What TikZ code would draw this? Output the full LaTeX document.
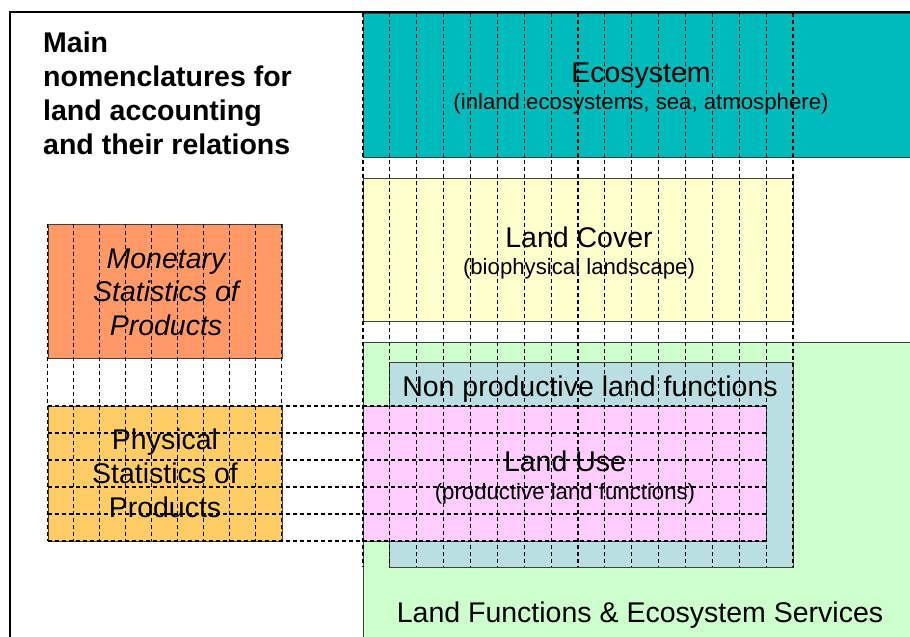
\documentclass[tikz,border=0pt]{standalone}
\usepackage{fontspec}
\setmainfont{Liberation Sans}
\definecolor{ecoteal}{RGB}{0,187,187}
\definecolor{coveryellow}{RGB}{255,255,204}
\definecolor{monorange}{RGB}{255,153,102}
\definecolor{physorange}{RGB}{255,204,102}
\definecolor{funcgreen}{RGB}{204,255,204}
\definecolor{nonprodblue}{RGB}{185,223,227}
\definecolor{usepink}{RGB}{255,204,255}
\tikzset{
  box/.style={draw=black!75, line width=1.2pt, inner sep=0pt, anchor=north west, rectangle},
  gridline/.style={draw=black, line width=1.2pt, dash pattern=on 4pt off 3pt},
  big/.style={font=\fontsize{28.5}{33}\selectfont, inner sep=0pt, anchor=base},
  bigit/.style={font=\fontsize{28.5}{33}\itshape\selectfont, inner sep=0pt, anchor=base},
  small/.style={font=\fontsize{22.2}{26}\selectfont, inner sep=0pt, anchor=base},
  titletext/.style={font=\fontsize{28.5}{34}\bfseries\selectfont, inner sep=0pt, anchor=base west},
}
\begin{document}
\begin{tikzpicture}[x=1pt,y=-1pt]
\useasboundingbox (0,0) rectangle (910,637);
% boxes
\node[box, fill=ecoteal, minimum width=560pt, minimum height=144pt] (eco) at (363,13) {};
\node[box, fill=coveryellow, minimum width=430pt, minimum height=143pt] (cover) at (363,178) {};
\node[box, fill=monorange, minimum width=234pt, minimum height=134pt] (mon) at (47.5,224) {};
\node[box, fill=physorange, minimum width=234pt, minimum height=135pt] (phys) at (47.5,406) {};
\node[box, fill=funcgreen, minimum width=560pt, minimum height=310pt] (func) at (363,341.5) {};
\node[box, fill=nonprodblue, minimum width=404pt, minimum height=205pt] (nonprod) at (389,362) {};
\node[box, fill=usepink, minimum width=403pt, minimum height=135pt] (use) at (363,406) {};
% frame
\draw[line width=2pt] (10,640) -- (10,12) -- (912,12);
% title
\node[titletext] (t1) at (43,52.3) {Main};
\node[titletext] (t2) at (43,86) {nomenclatures for};
\node[titletext] (t3) at (43,120) {land accounting};
\node[titletext] (t4) at (43,154) {and their relations};
% texts
\node[big] (ecot) at (641,82.7) {Ecosystem};
\node[small] (ecos) at (641,109) {(inland ecosystems, sea, atmosphere)};
\node[big] (covt) at (579,247.5) {Land Cover};
\node[small] (covs) at (579,274) {(biophysical landscape)};
\node[bigit] (mon1) at (166,268) {Monetary};
\node[bigit] (mon2) at (166,301.5) {Statistics of};
\node[bigit] (mon3) at (166,335) {Products};
\node[big] (phy1) at (165,449) {Physical};
\node[big] (phy2) at (165,483) {Statistics of};
\node[big] (phy3) at (165,517.5) {Products};
\node[big] (npt) at (590,396) {Non productive land functions};
\node[big] (uset) at (565,471) {Land Use};
\node[small] (uses) at (565,499) {(productive land functions)};
\node[big] (funct) at (640,622.7) {Land Functions \& Ecosystem Services};
% dashed grid
\foreach \k in {0,...,16}{
  \coordinate (va\k) at ({363+\k*26.875},13);
  \coordinate (vb\k) at ({363+\k*26.875},567);
  \draw[gridline] (va\k) -- (vb\k);
}
\foreach \k in {0,...,9}{
  \coordinate (la\k) at ({47.5+\k*26},224);
  \coordinate (lb\k) at ({47.5+\k*26},541);
  \draw[gridline] (la\k) -- (lb\k);
}
\foreach \j in {0,...,5}{
  \coordinate (ha\j) at (47.5,{406+\j*27});
  \coordinate (hb\j) at (766,{406+\j*27});
  \draw[gridline] (ha\j) -- (hb\j);
}
\end{tikzpicture}
\end{document}
